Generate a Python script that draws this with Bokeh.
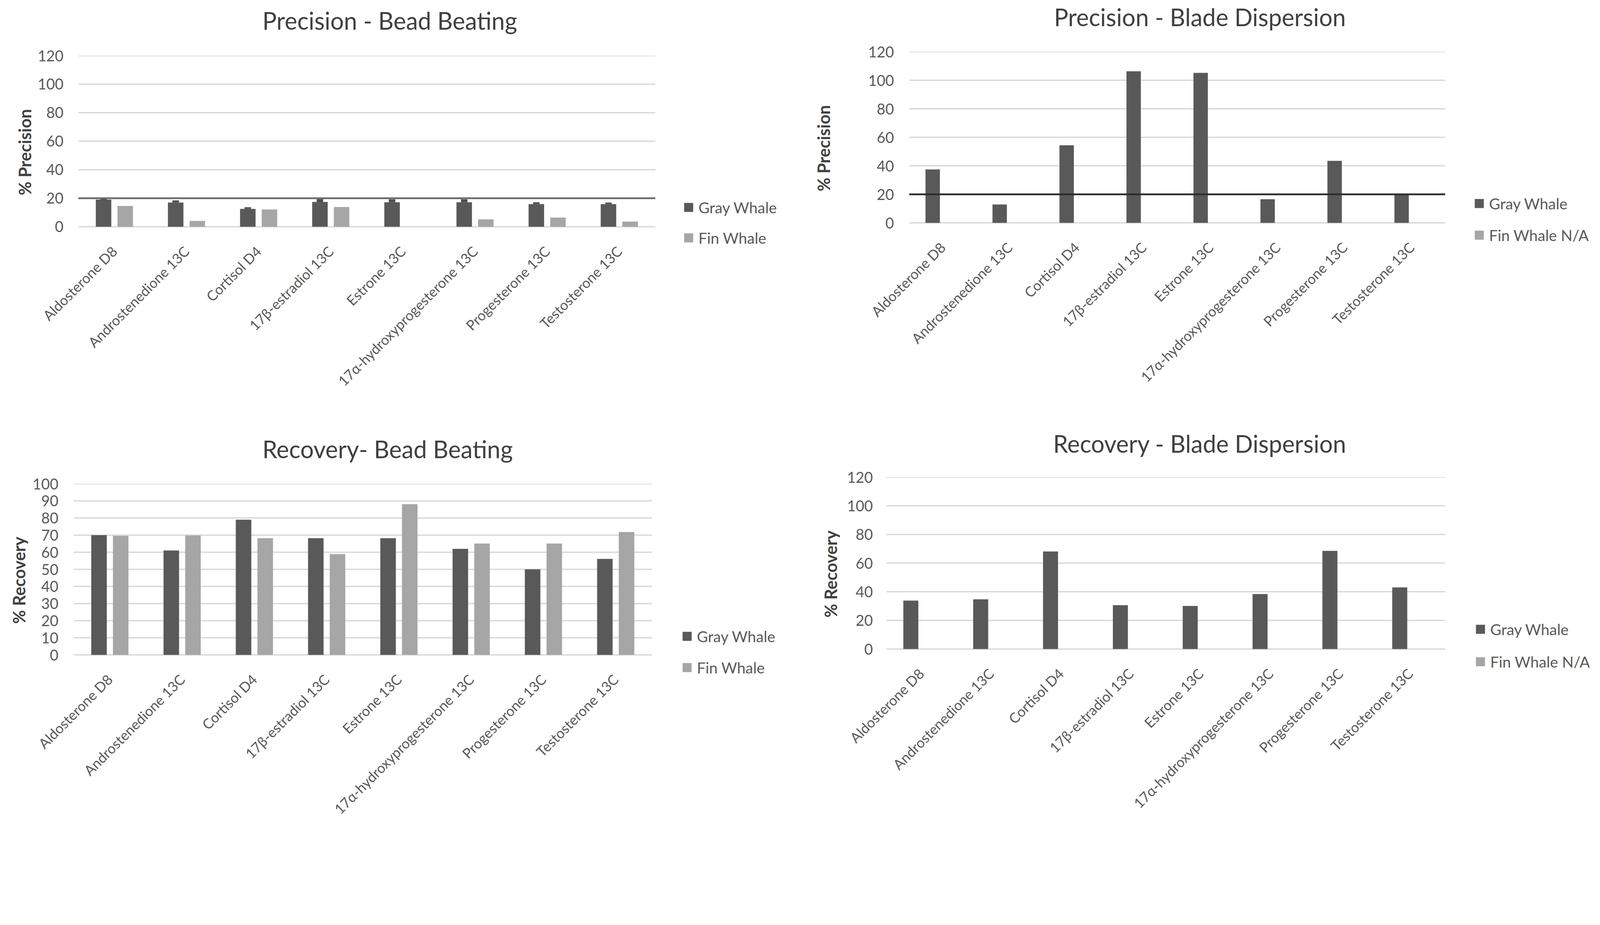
import math
from bokeh.plotting import figure
from bokeh.models import (Range1d, Legend, LegendItem, ColumnDataSource, FixedTicker,
                          LinearAxis)
from bokeh.layouts import row, column
from bokeh.transform import dodge
from bokeh.embed import file_html
from bokeh.resources import INLINE

NAN = float("nan")

categories = ["Aldosterone D8", "Androstenedione 13C", "Cortisol D4",
              "17β-estradiol 13C", "Estrone 13C", "17α-hydroxyprogesterone 13C",
              "Progesterone 13C", "Testosterone 13C"]

# Precision - Bead Beating
prec_bead_gray = [19.0, 17.0, 12.5, 17.4, 17.2, 17.2, 15.9, 15.9]
prec_bead_gray_err = [1.0, 1.5, 1.2, 2.0, 2.0, 2.0, 1.3, 1.1]
prec_bead_fin = [14.6, 4.1, 12.1, 13.8, NAN, 5.2, 6.4, 3.6]

# Precision - Blade Dispersion (Fin Whale N/A)
prec_blade_gray = [37.5, 12.9, 54.4, 106.3, 105.2, 16.6, 43.5, 20.2]
prec_blade_fin = [NAN] * 8

# Recovery - Bead Beating
rec_bead_gray = [70.0, 61.0, 79.0, 68.2, 68.2, 62.0, 50.0, 56.1]
rec_bead_fin = [69.6, 69.8, 68.2, 58.9, 88.1, 65.1, 65.1, 71.8]

# Recovery - Blade Dispersion (Fin Whale N/A)
rec_blade_gray = [33.8, 34.7, 68.1, 30.6, 30.1, 38.4, 68.5, 43.0]
rec_blade_fin = [NAN] * 8

ticks_precision = [0, 20, 40, 60, 80, 100, 120]
ticks_recovery_bead = [0, 10, 20, 30, 40, 50, 60, 70, 80, 90, 100]
ticks_recovery_blade = [0, 20, 40, 60, 80, 100, 120]
threshold = 20

GRAY = "#595959"
FIN = "#a6a6a6"
TEXT = "#404040"
TICK = "#595959"
GRID = "#d9d9d9"
FONT = "Lato"

# layout in CSS px; the page is photographed at ~1.11 picture px per CSS px
K = 4550 / 4096
W, H = 2040, 1058
PAD = 56          # frame space kept below the zero line (room for the legend)
GW = 29           # legend glyph box
LSTAND = 11       # legend label standoff
LH = 47           # legend label height
idx = list(range(len(categories)))
N = len(categories)


def c(v):
    return v / K


def make_chart(title, ylabel, gray, fin, fin_label, ticks, ymax, origin, frame_left,
               plot_ref, title_ref_x, title_gap_ref, swatch_ref, gray_y_ref, fin_y_ref,
               ylabel_standoff, ytick_gap_ref, err=None, line=None, line_color="#404040"):
    ox, oy = origin
    l, r, t, b = plot_ref
    pl, pr, pt, pb = c(l - ox), c(r - ox), c(t - oy), c(b - oy)
    L = frame_left                       # shared by both charts of a column
    inset = pl - L                       # plot area starts this far inside the frame
    top = round(pt)
    bottom = round(H - (pb + PAD))
    pw, ph = pr - pl, pb - pt
    fw = W - L
    x_start = -0.5 - inset * N / pw
    x_end = -0.5 + (W - pl) * N / pw
    y_start = -ymax * PAD / ph

    p = figure(width=W, height=H, x_range=Range1d(x_start, x_end),
               y_range=Range1d(y_start, ymax), output_backend="svg", toolbar_location=None,
               min_border_left=L, min_border_right=0,
               min_border_top=top, min_border_bottom=bottom)
    p.background_fill_color = "white"
    p.border_fill_color = "white"
    p.outline_line_color = None
    p.xgrid.grid_line_color = None
    p.ygrid.grid_line_color = None

    # horizontal gridlines across the plot area only
    p.segment(x0=[-0.5] * len(ticks), x1=[N - 0.5] * len(ticks), y0=ticks, y1=ticks,
              line_color=GRID, line_width=3.5)

    src = ColumnDataSource(dict(x=idx, gray=gray, fin=fin))
    r_gray = p.vbar(x=dodge("x", -0.15), top="gray", width=0.215,
                    source=src, fill_color=GRAY, line_color=None)
    r_fin = p.vbar(x=dodge("x", 0.15), top="fin", width=0.215,
                   source=src, fill_color=FIN, line_color=None)
    if err is not None:
        upper = [g + e for g, e in zip(gray, err)]
        esrc = ColumnDataSource(dict(x=idx, lo=gray, hi=upper))
        p.vbar(x=dodge("x", -0.15), bottom="lo", top="hi", width=0.09,
               source=esrc, fill_color="#4d4d4d", line_color=None)
    if line is not None:
        p.segment(x0=[-0.5], x1=[N - 0.5], y0=[line], y1=[line],
                  line_color=line_color, line_width=4.5)

    p.yaxis.ticker = FixedTicker(ticks=ticks)
    p.yaxis.bounds = (0, ymax)
    p.xaxis.ticker = FixedTicker(ticks=idx)
    p.xaxis.major_label_overrides = {i: name for i, name in zip(idx, categories)}
    for ax in (p.xaxis[0], p.yaxis[0]):
        ax.axis_line_color = None
        ax.major_tick_line_color = None
        ax.minor_tick_line_color = None
        ax.major_tick_out = 0
        ax.major_tick_in = 0
        ax.major_label_text_font = FONT
        ax.major_label_text_color = TICK
    p.yaxis.major_label_text_font_size = "38px"
    p.yaxis.major_label_standoff = round(c(ytick_gap_ref) - inset)
    p.yaxis.axis_label = ylabel
    p.yaxis.axis_label_text_font = FONT
    p.yaxis.axis_label_text_font_style = "bold"
    p.yaxis.axis_label_text_font_size = "43px"
    p.yaxis.axis_label_text_color = TEXT
    p.yaxis.axis_label_standoff = ylabel_standoff
    p.xaxis.major_label_orientation = math.pi / 4
    p.xaxis.major_label_text_font_size = "36px"
    p.xaxis.major_label_standoff = 0

    # chart title, drawn as the single label of an axis above the plot area
    title_pos = round(1000 * (c(title_ref_x - l) + inset) / fw)
    p.extra_x_ranges = {"title": Range1d(0, 1000)}
    tax = LinearAxis(x_range_name="title", ticker=FixedTicker(ticks=[title_pos]),
                     major_label_overrides={title_pos: title})
    tax.axis_line_color = None
    tax.major_tick_line_color = None
    tax.minor_tick_line_color = None
    tax.major_tick_out = 0
    tax.major_tick_in = 0
    tax.major_label_standoff = round(c(title_gap_ref) - 42)
    tax.major_label_text_font = FONT
    tax.major_label_text_font_size = "61px"
    tax.major_label_text_color = TEXT
    p.add_layout(tax, "above")

    lx = c(swatch_ref - l) + inset - 0.1 * GW
    ly = max(0.0, PAD - (c(fin_y_ref - b) + LH / 2))
    legend = Legend(items=[LegendItem(label="Gray Whale", renderers=[r_gray]),
                           LegendItem(label=fin_label, renderers=[r_fin])],
                    location=(round(lx), round(ly)))
    legend.background_fill_alpha = 0
    legend.border_line_color = None
    legend.padding = 0
    legend.margin = 0
    legend.glyph_width = GW
    legend.glyph_height = GW
    legend.label_height = LH
    legend.spacing = round(c(fin_y_ref - gray_y_ref) - LH)
    legend.label_standoff = LSTAND
    legend.label_text_font = FONT
    legend.label_text_font_size = "39px"
    legend.label_text_color = TICK
    p.add_layout(legend)
    return p


LX, RX = 8 * K, (8 + W) * K
TY, BY = 8 * K, (8 + H) * K
LEFT_COL = round(c(218 - LX))      # shared frame left, left column
RIGHT_COL = round(c(2529 - RX))    # shared frame left, right column

tl = make_chart("Precision - Bead Beating", "% Precision", prec_bead_gray, prec_bead_fin,
                "Fin Whale", ticks_precision, 120, (LX, TY), LEFT_COL, (231, 1872, 167, 653),
                1117, 107, 1954, 598, 685, 4, 42,
                err=prec_bead_gray_err, line=threshold, line_color="#6a6a6a")
tr = make_chart("Precision - Blade Dispersion", "% Precision", prec_blade_gray, prec_blade_fin,
                "Fin Whale N/A", ticks_precision, 120, (RX, TY), RIGHT_COL,
                (2594, 4118, 155, 642), 3421, 106, 4202, 587, 677, 85, 43,
                line=threshold, line_color="#2b2b2b")
bl = make_chart("Recovery- Bead Beating", "% Recovery", rec_bead_gray, rec_bead_fin,
                "Fin Whale", ticks_recovery_bead, 100, (LX, BY), LEFT_COL,
                (218, 1862, 1384, 1871), 1110, 106, 1949, 1818, 1907, 6, 44)
br = make_chart("Recovery - Blade Dispersion", "% Recovery", rec_blade_gray, rec_blade_fin,
                "Fin Whale N/A", ticks_recovery_blade, 120, (RX, BY), RIGHT_COL,
                (2529, 4118, 1365, 1854), 3421, 102, 4205, 1799, 1891, 13, 39)

layout = row(column(tl, bl), column(tr, br))
open("out.html", "w").write(file_html(layout, INLINE))
